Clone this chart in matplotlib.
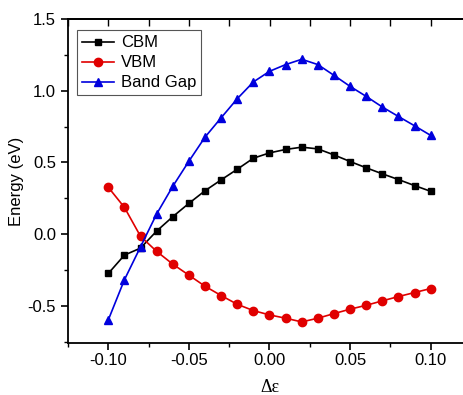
import matplotlib
matplotlib.use("Agg")
import matplotlib.pyplot as plt
from matplotlib.ticker import MultipleLocator

strain = [-0.10, -0.09, -0.08, -0.07, -0.06, -0.05, -0.04, -0.03, -0.02, -0.01, 0.00,
          0.01, 0.02, 0.03, 0.04, 0.05, 0.06, 0.07, 0.08, 0.09, 0.10]
cbm = [-0.275, -0.147, -0.098, 0.021, 0.121, 0.214, 0.302, 0.378, 0.452, 0.529, 0.566,
       0.590, 0.606, 0.594, 0.552, 0.506, 0.462, 0.420, 0.380, 0.338, 0.298]
vbm = [0.326, 0.186, -0.016, -0.121, -0.210, -0.287, -0.364, -0.429, -0.490, -0.534, -0.564,
       -0.587, -0.613, -0.587, -0.555, -0.524, -0.497, -0.466, -0.436, -0.408, -0.380]
gap = [-0.599, -0.319, -0.089, 0.140, 0.333, 0.508, 0.676, 0.811, 0.944, 1.061, 1.135,
       1.182, 1.219, 1.182, 1.107, 1.030, 0.960, 0.886, 0.820, 0.755, 0.688]

plt.rcParams['font.family'] = ['Liberation Sans', 'DejaVu Sans']

fig = plt.figure(figsize=(4.64, 3.95), dpi=100)
ax = fig.add_axes([68/464, 52/395, (471-68)/464, (343-19)/395])

ax.plot(strain, cbm, color='black', marker='s', markersize=5, linewidth=1.2, label='CBM')
ax.plot(strain, vbm, color='#e00000', marker='o', markersize=6, linewidth=1.2, label='VBM')
ax.plot(strain, gap, color='#0000dd', marker='^', markersize=6, linewidth=1.2, label='Band Gap')

ax.set_xlim(-0.125, 0.125)
ax.set_ylim(-0.76, 1.5)
ax.xaxis.set_major_locator(MultipleLocator(0.05))
ax.xaxis.set_minor_locator(MultipleLocator(0.025))
ax.yaxis.set_major_locator(MultipleLocator(0.5))
ax.yaxis.set_minor_locator(MultipleLocator(0.25))
ax.xaxis.set_major_formatter(matplotlib.ticker.FormatStrFormatter('%.2f'))
ax.yaxis.set_major_formatter(matplotlib.ticker.FormatStrFormatter('%.1f'))

ax.tick_params(axis='both', which='major', direction='out', length=5, width=1.2,
               labelsize=12, top=False, right=False)
ax.tick_params(axis='x', which='major', pad=2)
ax.tick_params(axis='both', which='minor', direction='out', length=3, width=1.0,
               top=False, right=False)
secx = ax.secondary_xaxis('top')
secx.xaxis.set_major_locator(MultipleLocator(0.025))
secx.tick_params(direction='in', length=5, width=1.0, labeltop=False)
secx.spines['top'].set_linewidth(1.3)

for s in ax.spines.values():
    s.set_linewidth(1.3)

ax.set_ylabel('Energy (eV)', fontsize=12, labelpad=3)
ax.set_xlabel('Δε', fontsize=13, family=['Liberation Serif', 'DejaVu Serif'], labelpad=8)

leg = ax.legend(loc='upper left', bbox_to_anchor=(0.015, 0.975), fontsize=12,
                frameon=True, fancybox=False, edgecolor='#555555', framealpha=1,
                handlelength=1.9, handletextpad=0.4, borderpad=0.3, labelspacing=0.3,
                borderaxespad=0.2)
leg.get_frame().set_linewidth(0.8)

fig.savefig('out.png', dpi=100)
